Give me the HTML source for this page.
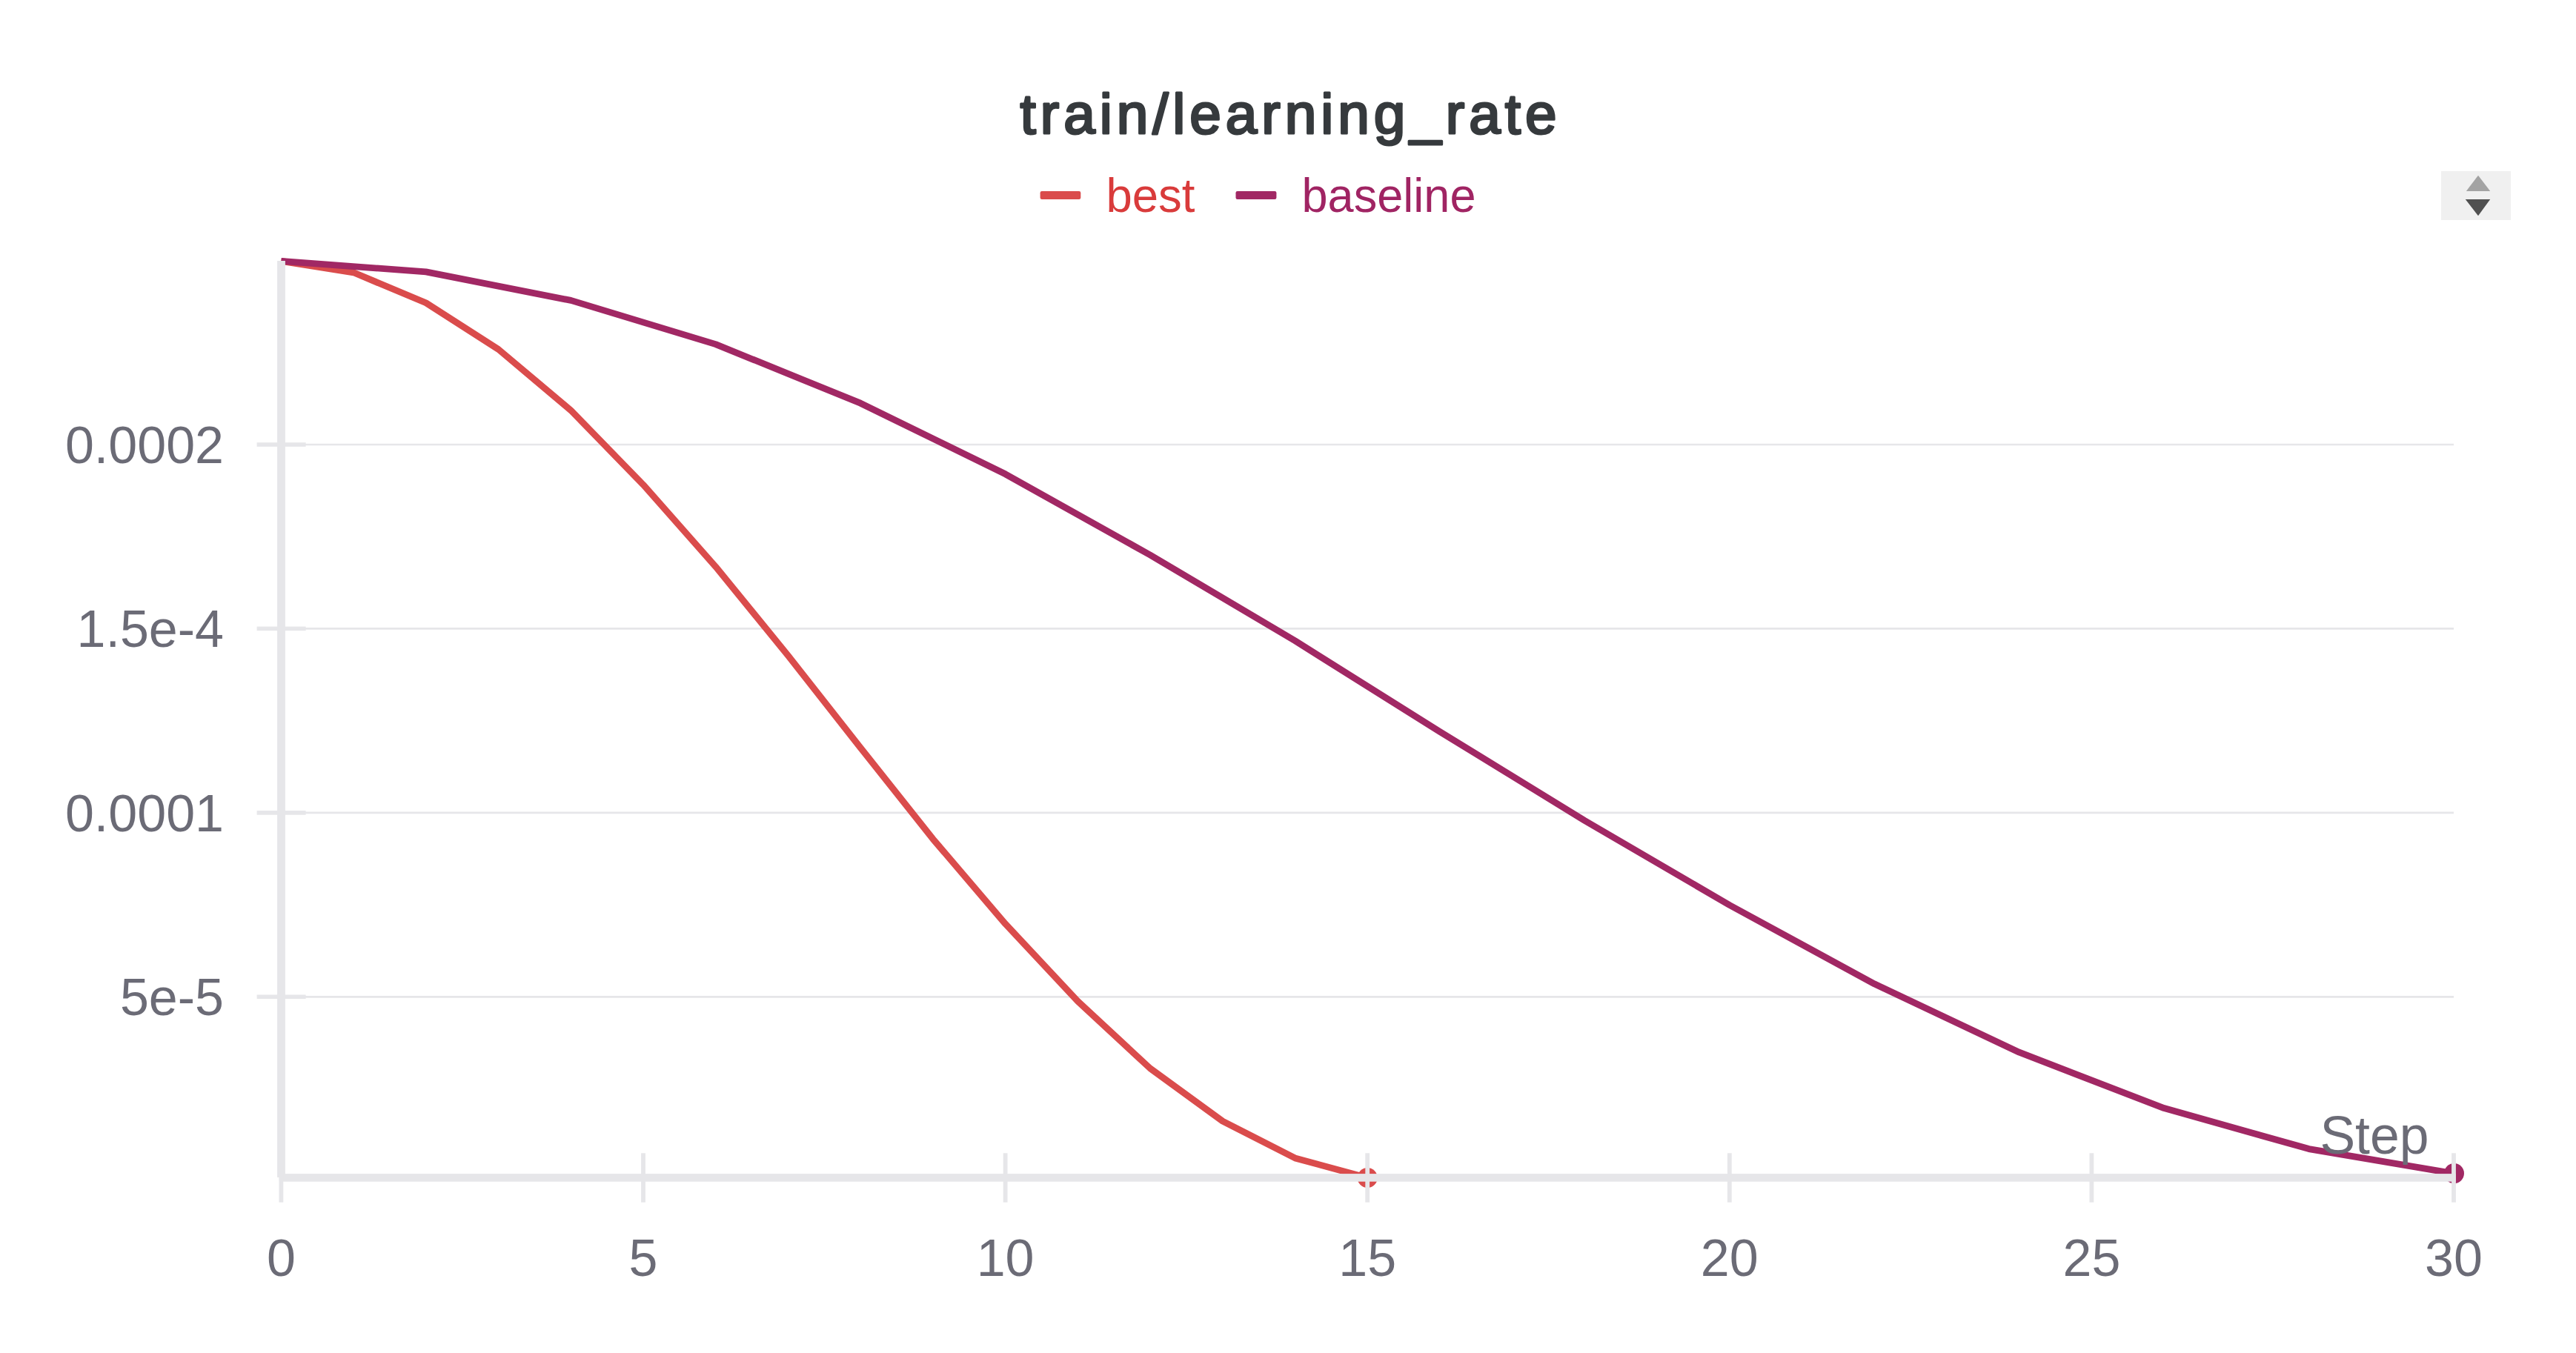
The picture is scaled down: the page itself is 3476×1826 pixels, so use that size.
<!DOCTYPE html>
<html><head><meta charset="utf-8"><title>train/learning_rate</title>
<style>
html,body{margin:0;padding:0;background:#fff;}
body{width:3476px;height:1826px;overflow:hidden;position:relative;}
svg{position:absolute;left:0;top:0;display:block;}
text{font-family:"Liberation Sans",sans-serif;}
.tick{fill:#6b6b76;font-size:70px;}
.title{fill:#363a3d;font-size:76.5px;stroke:#363a3d;stroke-width:3px;stroke-linejoin:round;}
.leg{font-size:64px;}
</style></head><body>
<svg width="3476" height="1826" viewBox="0 0 3476 1826">
<g stroke="#e6e6e9" stroke-width="2.7">
<line x1="380" y1="600.0" x2="3311" y2="600.0"/>
<line x1="380" y1="848.4" x2="3311" y2="848.4"/>
<line x1="380" y1="1096.9" x2="3311" y2="1096.9"/>
<line x1="380" y1="1345.3" x2="3311" y2="1345.3"/>
</g>
<polyline points="379.4,352.4 477.1,367.8 574.8,408.8 672.6,471.5 770.3,553.8 868.0,654.2 965.7,764.8 1063.4,884.8 1161.2,1009.2 1258.9,1132.3 1356.6,1246.8 1454.3,1351.2 1552.0,1441.9 1649.8,1513.1 1747.5,1562.9 1845.2,1589.5" fill="none" stroke="#da4c4c" stroke-width="8.8" stroke-linejoin="round"/>
<polyline points="379.4,352.4 574.8,366.9 770.3,405.4 965.7,464.6 1161.2,544.2 1356.6,639.8 1552.0,749.0 1747.5,864.8 1942.9,987.4 2138.4,1107.5 2333.8,1221.5 2529.2,1327.8 2724.7,1420.2 2920.1,1495.6 3115.6,1550.6 3311.0,1583.6" fill="none" stroke="#a12864" stroke-width="8.8" stroke-linejoin="round"/>
<circle cx="1845.2" cy="1589.5" r="13.5" fill="#da4c4c"/>
<circle cx="3311.5" cy="1583.6" r="13.5" fill="#a12864"/>
<g fill="#e6e6e9">
<rect x="374.1" y="352" width="10.8" height="1237"/>
<rect x="376.8" y="1584.1" width="2937" height="10.6"/>
<rect x="346.6" y="597.2" width="66" height="5.6"/>
<rect x="346.6" y="845.6" width="66" height="5.6"/>
<rect x="346.6" y="1094.1" width="66" height="5.6"/>
<rect x="346.6" y="1342.5" width="66" height="5.6"/>
<rect x="376.5" y="1556.3" width="5.8" height="66.4"/>
<rect x="865.1" y="1556.3" width="5.8" height="66.4"/>
<rect x="1353.7" y="1556.3" width="5.8" height="66.4"/>
<rect x="1842.3" y="1556.3" width="5.8" height="66.4"/>
<rect x="2330.9" y="1556.3" width="5.8" height="66.4"/>
<rect x="2819.5" y="1556.3" width="5.8" height="66.4"/>
<rect x="3308.1" y="1556.3" width="5.8" height="66.4"/>
</g>
<text class="tick" x="302" y="625.0" text-anchor="end">0.0002</text>
<text class="tick" x="302" y="873.4" text-anchor="end">1.5e-4</text>
<text class="tick" x="302" y="1121.9" text-anchor="end">0.0001</text>
<text class="tick" x="302" y="1370.3" text-anchor="end">5e-5</text>
<text class="tick" x="379.4" y="1721.6" text-anchor="middle">0</text>
<text class="tick" x="868.0" y="1721.6" text-anchor="middle">5</text>
<text class="tick" x="1356.6" y="1721.6" text-anchor="middle">10</text>
<text class="tick" x="1845.2" y="1721.6" text-anchor="middle">15</text>
<text class="tick" x="2333.8" y="1721.6" text-anchor="middle">20</text>
<text class="tick" x="2822.4" y="1721.6" text-anchor="middle">25</text>
<text class="tick" x="3311.0" y="1721.6" text-anchor="middle">30</text>
<text class="tick" x="3277.5" y="1557" text-anchor="end" style="font-size:71.5px">Step</text>
<text class="title" x="1376.5" y="180.2" textLength="724" lengthAdjust="spacing">train/learning_rate</text>
<rect x="1403.6" y="257.9" width="54.7" height="11.1" rx="2.3" fill="#da4c4c"/>
<text class="leg" x="1492.5" y="286" fill="#d93b3b" textLength="120" lengthAdjust="spacingAndGlyphs">best</text>
<rect x="1667.5" y="257.9" width="54.9" height="11.1" rx="2.3" fill="#a12864"/>
<text class="leg" x="1756.5" y="286" fill="#a02463" textLength="235" lengthAdjust="spacingAndGlyphs">baseline</text>
<rect x="3294" y="231" width="94" height="66" fill="#f0f0f0"/>
<polygon points="3344,236.8 3360.2,257.9 3327.9,257.9" fill="#a3a3a3"/>
<polygon points="3326.8,269 3360.2,269 3344,291.2" fill="#505050"/>
</svg></body></html>
